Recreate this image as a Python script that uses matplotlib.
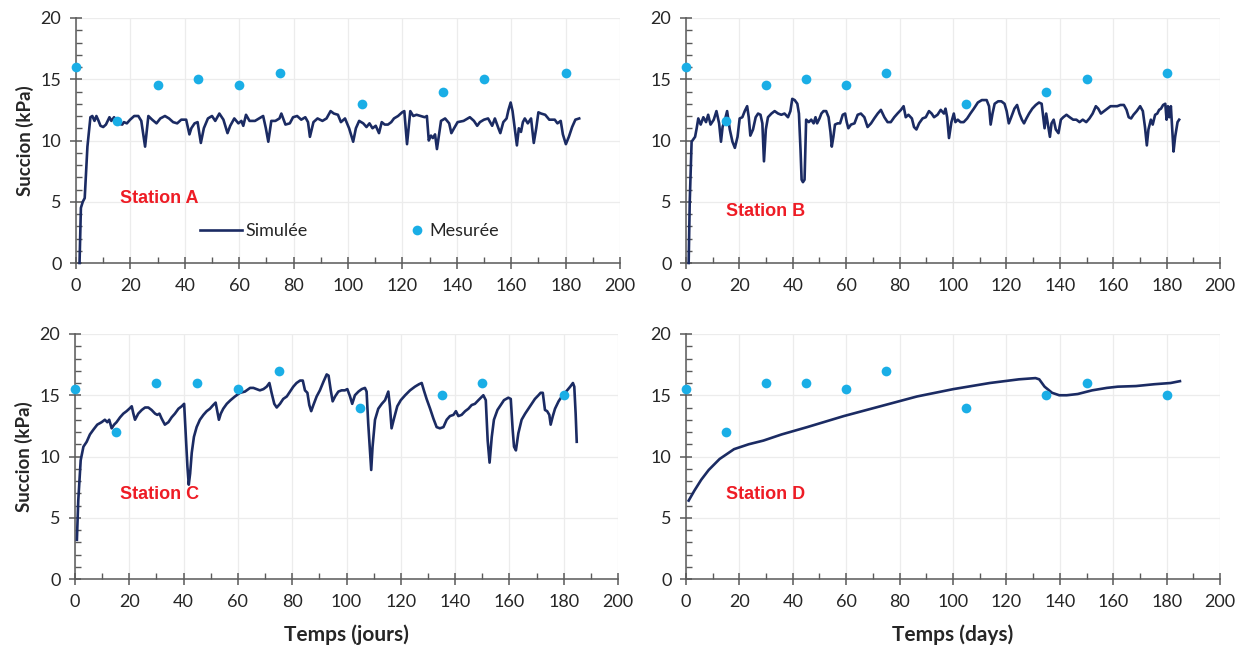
import matplotlib
matplotlib.use("Agg")
import matplotlib.pyplot as plt
from matplotlib.ticker import MultipleLocator

# ---------------- data ----------------
meas_days = [0, 15, 30, 45, 60, 75, 105, 135, 150, 180]
meas_AB = [16.0, 11.6, 14.5, 15.0, 14.5, 15.5, 13.0, 14.0, 15.0, 15.5]
meas_CD = [15.5, 12.0, 16.0, 16.0, 15.5, 17.0, 14.0, 15.0, 16.0, 15.0]

days_A = [1.3, 1.8, 2.5, 3.2, 4.2, 5.3, 6.0, 6.8, 7.5, 8.3, 9.0, 10.0, 11.0, 12.3, 13.0, 14.0, 15.3, 17.0, 17.6, 18.7,
          19.9, 21.4, 22.9, 24.0, 25.4, 26.6, 28.0, 29.6, 31.0, 32.7, 34.2, 35.7, 37.2, 38.7, 40.5, 41.7, 42.4, 43.6, 44.7, 45.9,
          47.0, 48.5, 50.0, 51.2, 52.7, 54.2, 55.7, 56.7, 58.2, 59.7, 60.8, 61.5, 62.5, 63.8, 65.8, 67.3, 68.8, 69.8, 70.7, 71.8,
          73.3, 74.8, 75.5, 77.0, 78.6, 79.8, 81.3, 82.8, 84.3, 85.3, 86.0, 87.3, 88.8, 90.6, 92.1, 93.6, 94.8, 96.3, 97.4, 98.9,
          100.4, 101.9, 102.9, 104.1, 105.6, 106.8, 107.9, 109.0, 110.2, 111.4, 112.4, 113.5, 114.7, 115.9, 116.9, 118.4, 119.9, 120.7, 121.7, 122.9,
          124.0, 125.2, 126.7, 128.2, 129.0, 129.7, 130.5, 131.2, 132.0, 132.7, 133.5, 134.2, 135.7, 137.2, 138.0, 139.0, 140.3, 142.5, 144.8, 146.3,
          147.5, 148.5, 150.0, 151.5, 153.0, 154.0, 155.3, 156.0, 157.1, 158.3, 159.0, 159.8, 160.5, 161.3, 162.1, 162.8, 163.6, 164.3, 165.0, 166.1,
          167.3, 168.3, 169.2, 170.0, 171.0, 172.5, 174.0, 176.0, 177.0, 178.2, 179.0, 180.1, 181.2, 182.4, 183.6, 185.0]
succ_A = [0.0, 4.5, 5.0, 5.3, 9.5, 11.9, 12.0, 11.6, 12.0, 11.6, 11.2, 11.1, 11.3, 11.9, 11.6, 11.9, 11.4, 11.3, 11.5, 11.4,
          11.7, 12.0, 12.0, 11.6, 9.5, 12.0, 11.7, 11.4, 11.8, 12.0, 11.8, 11.5, 11.4, 11.7, 11.7, 10.5, 11.0, 11.4, 11.5, 9.8,
          11.0, 11.8, 12.0, 11.6, 12.2, 11.7, 10.6, 11.2, 11.8, 11.4, 11.6, 11.2, 12.1, 11.6, 11.6, 11.8, 12.0, 11.0, 9.9, 11.6,
          11.6, 11.8, 12.2, 11.3, 11.4, 11.9, 12.0, 11.7, 11.9, 11.5, 10.3, 11.5, 11.8, 11.6, 11.8, 12.4, 12.2, 12.1, 11.5, 11.8,
          11.0, 9.9, 11.0, 11.6, 11.4, 11.1, 11.4, 11.0, 11.2, 10.6, 11.5, 11.3, 11.3, 11.5, 11.8, 12.0, 12.3, 12.4, 9.7, 12.4,
          12.0, 12.1, 12.0, 11.9, 12.0, 10.0, 10.4, 10.2, 10.5, 9.3, 10.5, 11.6, 11.8, 11.4, 10.6, 11.0, 11.5, 11.6, 11.9, 11.6,
          11.2, 11.5, 11.7, 11.8, 11.2, 11.8, 11.0, 10.6, 11.5, 11.8, 12.5, 13.1, 12.4, 11.0, 9.6, 11.0, 10.7, 11.5, 11.8, 11.4,
          11.8, 9.8, 11.0, 12.3, 12.2, 12.1, 11.7, 11.7, 11.4, 11.6, 10.5, 9.7, 10.3, 11.1, 11.7, 11.8]

days_B = [1.0, 1.4, 2.1, 3.4, 4.0, 4.6, 5.5, 6.5, 7.5, 8.3, 9.2, 10.4, 11.4, 12.4, 13.1, 13.7, 14.6, 15.4, 16.4, 17.4,
          18.3, 19.3, 20.1, 21.1, 22.0, 22.9, 23.5, 24.1, 25.1, 26.1, 27.0, 27.9, 28.6, 29.2, 29.9, 30.7, 32.0, 33.2, 34.5, 35.7,
          36.9, 38.2, 39.1, 39.8, 40.7, 41.7, 42.3, 42.9, 43.3, 43.8, 44.4, 45.0, 46.0, 46.9, 47.8, 48.5, 49.1, 50.0, 50.7, 51.5,
          52.5, 53.4, 54.1, 54.6, 55.2, 55.8, 56.8, 57.7, 58.7, 59.6, 60.2, 60.8, 61.8, 63.1, 64.3, 65.5, 66.8, 68.0, 69.3, 70.5,
          71.8, 73.0, 74.3, 75.5, 76.7, 78.0, 79.2, 80.5, 81.5, 82.3, 83.3, 84.6, 85.4, 86.3, 87.3, 88.6, 89.8, 91.0, 92.0, 92.9,
          94.2, 95.4, 96.6, 97.2, 97.8, 98.5, 99.4, 100.3, 100.9, 101.8, 102.8, 104.0, 105.3, 106.5, 107.8, 109.3, 110.8, 112.6, 113.5, 114.1,
          114.8, 115.6, 116.9, 118.1, 119.3, 120.1, 120.9, 121.8, 123.0, 124.0, 124.9, 125.8, 126.6, 127.5, 128.5, 129.7, 131.0, 132.2, 133.2, 133.8,
          134.3, 134.9, 135.5, 136.3, 136.9, 137.7, 138.5, 139.5, 140.4, 141.3, 142.5, 143.7, 145.0, 146.2, 147.4, 148.6, 149.9, 151.1, 152.3, 153.5,
          154.4, 155.4, 156.6, 157.8, 159.0, 160.3, 161.5, 162.7, 164.0, 165.0, 165.8, 166.7, 167.6, 168.8, 170.1, 171.1, 171.9, 172.6, 173.2, 174.1,
          174.8, 175.7, 176.5, 177.2, 177.9, 178.7, 179.5, 180.0, 180.5, 181.0, 181.6, 182.1, 182.6, 183.2, 184.1, 184.7]
succ_B = [0.0, 5.0, 9.9, 10.3, 11.0, 11.8, 11.3, 11.9, 11.5, 12.1, 11.3, 11.7, 12.4, 11.4, 9.9, 11.1, 11.7, 12.4, 10.9, 9.9,
          9.4, 10.3, 11.8, 11.9, 12.4, 12.8, 11.9, 10.4, 10.9, 11.9, 12.2, 12.1, 11.4, 8.3, 10.9, 11.9, 12.2, 12.4, 12.2, 12.1,
          12.2, 11.9, 12.4, 13.4, 13.3, 13.0, 12.2, 9.2, 6.8, 6.6, 6.8, 11.7, 11.5, 11.7, 11.4, 11.9, 11.4, 11.8, 12.2, 12.4,
          12.4, 11.9, 10.7, 9.5, 10.3, 11.3, 11.4, 11.4, 12.1, 12.2, 11.5, 11.0, 11.3, 11.4, 12.1, 12.2, 11.9, 11.1, 11.4, 11.8,
          12.2, 12.5, 11.9, 11.5, 11.5, 11.9, 12.2, 12.5, 12.8, 11.9, 12.1, 11.8, 11.1, 10.9, 11.4, 11.8, 11.9, 12.4, 12.2, 11.9,
          12.1, 12.5, 12.2, 12.6, 11.9, 10.2, 11.5, 12.2, 11.5, 11.7, 11.5, 11.5, 11.8, 12.2, 12.6, 13.1, 13.3, 13.3, 12.8, 11.3,
          12.2, 13.0, 13.2, 13.2, 13.0, 12.4, 11.4, 11.9, 12.6, 12.9, 12.2, 11.7, 11.4, 11.8, 12.2, 12.6, 12.9, 13.1, 13.0, 11.9,
          11.0, 12.2, 11.4, 10.3, 11.4, 11.7, 10.9, 10.6, 11.7, 11.9, 12.1, 11.9, 11.7, 11.7, 11.5, 11.7, 11.5, 11.8, 12.2, 12.8,
          12.6, 12.2, 12.4, 12.6, 12.8, 12.8, 12.8, 12.9, 12.9, 12.5, 11.9, 11.8, 12.1, 12.4, 12.8, 12.4, 11.1, 9.6, 10.9, 11.7,
          11.3, 12.1, 12.2, 12.5, 12.6, 12.9, 13.0, 11.7, 12.8, 11.9, 12.8, 10.9, 9.1, 10.3, 11.5, 11.7]

days_C = [0.7, 1.2, 2.1, 3.1, 4.3, 5.5, 6.8, 8.2, 9.8, 11.0, 11.9, 12.6, 13.5, 14.4, 15.3, 16.6, 17.8, 19.0, 20.0, 20.9,
          21.5, 22.1, 23.3, 24.6, 25.8, 27.0, 28.2, 29.5, 30.3, 31.1, 31.9, 33.1, 34.4, 35.6, 36.8, 38.1, 39.3, 40.2, 40.9, 41.4,
          41.9, 42.4, 43.0, 43.8, 44.8, 46.0, 47.3, 48.5, 49.7, 50.9, 51.8, 52.4, 53.0, 53.7, 54.6, 55.9, 57.3, 58.9, 60.8, 62.6,
          64.5, 65.7, 66.9, 68.1, 69.4, 70.6, 71.6, 72.4, 73.4, 74.3, 75.5, 76.7, 78.0, 79.2, 80.4, 81.6, 82.9, 83.9, 84.7, 85.6,
          86.3, 87.0, 87.8, 89.0, 90.2, 91.5, 92.7, 93.4, 94.2, 94.9, 95.8, 97.0, 98.2, 99.4, 100.3, 101.3, 102.1, 103.1, 104.4, 105.6,
          106.8, 107.4, 108.0, 108.7, 109.1, 109.6, 110.5, 111.7, 113.0, 114.2, 115.4, 116.0, 116.6, 117.5, 118.7, 120.0, 121.6, 123.4, 125.2, 126.7,
          127.7, 128.5, 129.5, 130.8, 132.0, 133.2, 134.4, 135.7, 136.9, 138.1, 139.4, 140.3, 141.2, 142.4, 143.7, 144.9, 146.1, 147.3, 148.6, 150.4,
          151.3, 152.0, 152.7, 153.5, 154.3, 155.6, 156.8, 158.0, 159.6, 160.5, 161.2, 161.7, 162.4, 163.3, 164.5, 165.8, 167.0, 168.2, 169.4, 170.7,
          171.5, 172.3, 173.1, 173.9, 174.7, 175.2, 176.0, 176.8, 178.1, 179.3, 180.9, 182.4, 183.4, 183.9, 184.4, 184.8]
succ_C = [3.2, 6.4, 9.7, 10.8, 11.2, 11.8, 12.2, 12.6, 12.8, 13.0, 12.8, 13.0, 12.3, 12.6, 12.8, 13.2, 13.5, 13.7, 13.9, 14.1,
          13.5, 13.0, 13.5, 13.8, 14.0, 14.0, 13.8, 13.5, 13.4, 13.5, 13.1, 12.6, 12.8, 13.2, 13.5, 13.9, 14.1, 14.3, 11.3, 9.2,
          7.7, 8.6, 10.3, 11.6, 12.4, 13.0, 13.4, 13.7, 13.9, 14.2, 14.4, 13.7, 13.0, 13.5, 13.9, 14.3, 14.6, 14.9, 15.2, 15.3,
          15.6, 15.6, 15.5, 15.4, 15.5, 15.7, 16.0, 15.2, 14.3, 14.0, 14.3, 14.7, 14.9, 15.3, 15.7, 16.0, 16.2, 16.2, 15.4, 15.2,
          14.2, 13.7, 14.2, 14.9, 15.4, 16.1, 16.7, 16.6, 15.4, 14.5, 14.9, 15.3, 15.4, 15.4, 15.5, 14.9, 14.3, 15.0, 15.3, 15.5,
          15.6, 15.3, 12.7, 10.3, 8.9, 10.8, 13.0, 13.9, 14.3, 14.6, 15.3, 14.1, 12.3, 13.1, 14.1, 14.6, 15.0, 15.4, 15.7, 15.9,
          16.0, 15.4, 14.7, 13.9, 13.1, 12.4, 12.3, 12.4, 13.0, 13.3, 13.4, 13.7, 13.3, 13.4, 13.7, 13.9, 14.2, 14.3, 14.6, 15.0,
          14.6, 11.3, 9.5, 11.6, 13.0, 13.8, 14.2, 14.6, 14.8, 14.7, 12.2, 10.8, 10.5, 11.9, 13.0, 13.5, 13.9, 14.3, 14.7, 15.0,
          15.2, 15.2, 13.8, 13.7, 13.4, 12.6, 13.3, 13.9, 14.5, 14.9, 15.3, 15.7, 16.0, 15.7, 13.5, 11.2]

days_D = [1.0, 3.1, 5.7, 8.5, 12.6, 18.0, 23.5, 29.0, 35.8, 45.4, 59.1, 72.8, 86.5, 100.1, 113.8, 124.7, 130.9, 132.3,
          134.3, 137.1, 139.8, 142.6, 146.7, 152.1, 157.6, 161.7, 168.5, 175.4, 181.5, 185.0]
succ_D = [6.4, 7.2, 8.1, 8.9, 9.8, 10.6, 11.0, 11.3, 11.8, 12.4, 13.3, 14.1, 14.9, 15.5, 16.0, 16.3, 16.4, 16.3,
          15.7, 15.2, 15.0, 15.0, 15.1, 15.4, 15.6, 15.7, 15.75, 15.9, 16.0, 16.15]

station_names = ["Station A", "Station B", "Station C", "Station D"]
x_labels = ["Temps (jours)", "Temps (days)"]
y_label = "Succion (kPa)"
legend_labels = ["Simulée", "Mesurée"]

# ---------------- style ----------------
LINE_C = "#1b2b63"
DOT_C = "#1aaee6"
AX_C = "#595959"
GRID_C = "#ececec"
TXT_C = "#262626"
FONT = "Lato"

fig = plt.figure(figsize=(12.45, 6.49), dpi=100)
W, H = 1245, 649

def add_axes(px_left, px_right, px_top, px_bottom):
    return fig.add_axes([px_left / W, 1 - px_bottom / H, (px_right - px_left) / W, (px_bottom - px_top) / H])

axA = add_axes(76, 620, 18, 263)
axB = add_axes(686, 1220, 18, 263)
axC = add_axes(75, 618, 334, 579)
axD = add_axes(686, 1220, 334, 579)

panels = [
    (axA, days_A, succ_A, meas_AB, (16, 4.9)),
    (axB, days_B, succ_B, meas_AB, (15, 3.8)),
    (axC, days_C, succ_C, meas_CD, (16.5, 6.5)),
    (axD, days_D, succ_D, meas_CD, (15, 6.5)),
]

for i, (ax, dx, dy, my, txt_pos) in enumerate(panels):
    ln, = ax.plot(dx, dy, color=LINE_C, lw=1.9, solid_joinstyle="round", label=legend_labels[0], zorder=3)
    dots, = ax.plot(meas_days, my, "o", color=DOT_C, ms=7, mew=0, label=legend_labels[1], zorder=4)
    ax.set_xlim(0, 200)
    ax.set_ylim(0, 20)
    ax.xaxis.set_major_locator(MultipleLocator(20))
    ax.xaxis.set_minor_locator(MultipleLocator(10))
    ax.yaxis.set_major_locator(MultipleLocator(5))
    ax.yaxis.set_minor_locator(MultipleLocator(1))
    ax.grid(True, which="major", color=GRID_C, lw=0.9, zorder=0)
    ax.set_axisbelow(True)
    for s in ["top", "right"]:
        ax.spines[s].set_visible(False)
    for s in ["left", "bottom"]:
        ax.spines[s].set_color(AX_C)
        ax.spines[s].set_linewidth(1.1)
    ax.tick_params(which="major", direction="inout", length=9, width=1.1, color=AX_C,
                   labelsize=13, labelcolor=TXT_C, pad=6)
    ax.tick_params(which="minor", direction="in", length=4.5, width=1.0, color=AX_C)
    for lab in ax.get_xticklabels() + ax.get_yticklabels():
        lab.set_fontfamily(FONT)
    ax.text(txt_pos[0], txt_pos[1], station_names[i], color="#ee1c25", fontsize=13,
            fontweight="bold", fontfamily="Liberation Sans", zorder=5)
    ln.set_clip_on(False)
    dots.set_clip_on(False)
    if i in (0, 2):
        ax.set_ylabel(y_label, fontsize=13.5, fontweight="bold", fontfamily=FONT, labelpad=5, color=TXT_C)
    if i in (2, 3):
        ax.set_xlabel(x_labels[i - 2], fontsize=15, fontweight="bold", fontfamily=FONT, labelpad=11, color=TXT_C)
    if i == 0:
        leg1 = ax.legend(handles=[ln], loc="center left", bbox_to_anchor=(0.228, 0.13),
                         frameon=False, handlelength=2.3, handletextpad=0.2, borderpad=0, borderaxespad=0,
                         prop={"family": FONT, "size": 13})
        ax.add_artist(leg1)
        leg2 = ax.legend(handles=[dots], loc="center left", bbox_to_anchor=(0.61, 0.13),
                         frameon=False, handlelength=1.0, handletextpad=0.2, borderpad=0, borderaxespad=0,
                         prop={"family": FONT, "size": 13})
        for lg in (leg1, leg2):
            for t in lg.get_texts():
                t.set_color(TXT_C)

fig.savefig("out.png", dpi=100, facecolor="white")
